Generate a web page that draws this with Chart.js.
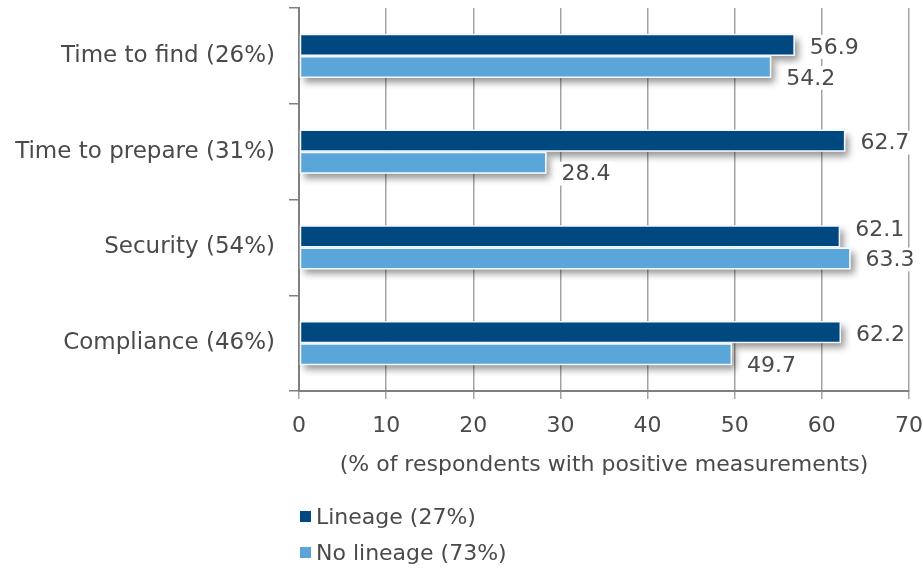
<!DOCTYPE html>
<html>
<head>
<meta charset="utf-8">
<script src="https://cdn.jsdelivr.net/npm/chart.js@4/dist/chart.umd.min.js"></script>
<style>
  html, body { margin: 0; padding: 0; background: #ffffff; }
  #wrap { width: 923px; height: 573px; }
</style>
</head>
<body>
<div id="wrap"><canvas id="c" width="923" height="573"></canvas></div>
<script>
// Categories and series values
const categories = ['Time to find (26%)', 'Time to prepare (31%)', 'Security (54%)', 'Compliance (46%)'];
const lineageValues = [56.9, 62.7, 62.1, 62.2];
const noLineageValues = [54.2, 28.4, 63.3, 49.7];
const seriesNames = ['Lineage (27%)', 'No lineage (73%)'];
const xTicks = [0, 10, 20, 30, 40, 50, 60, 70];
const axisTitle = '(% of respondents with positive measurements)';

const FONT = '"DejaVu Sans", sans-serif';
const TEXT = '#4a4a4a';
const COLORS = ['#004880', '#5ba6d8'];

// Drop shadow behind each pair of bars, drawn as white shapes before the bars
const shadowPlugin = {
  id: 'barShadow',
  beforeDatasetsDraw(chart) {
    const ctx = chart.ctx;
    const metas = [chart.getDatasetMeta(0), chart.getDatasetMeta(1)];
    ctx.save();
    ctx.shadowColor = 'rgba(0,0,0,0.42)';
    ctx.shadowBlur = 7;
    ctx.shadowOffsetX = 4;
    ctx.shadowOffsetY = 5;
    ctx.fillStyle = '#ffffff';
    for (let i = 0; i < categories.length; i++) {
      metas.forEach(m => {
        const b = m.data[i];
        const top = b.y - b.height / 2;
        ctx.fillRect(b.base, top, b.x - b.base, b.height);
      });
    }
    ctx.restore();
  }
};

// Value labels to the right of each bar, on a white box
const valueLabels = {
  id: 'valueLabels',
  afterDatasetsDraw(chart) {
    const ctx = chart.ctx;
    const m0 = chart.getDatasetMeta(0), m1 = chart.getDatasetMeta(1);
    ctx.save();
    ctx.font = '22px ' + FONT;
    ctx.textBaseline = 'middle';
    ctx.textAlign = 'left';
    for (let i = 0; i < categories.length; i++) {
      const a = lineageValues[i], b = noLineageValues[i];
      const lightLonger = b > a;
      const entries = [
        { bar: m0.data[i], v: a, dy: lightLonger ? -7 : 2 },
        { bar: m1.data[i], v: b, dy: lightLonger ? 1 : 11 }
      ];
      entries.forEach(e => {
        const txt = e.v.toFixed(1);
        const x = e.bar.x + 15;
        const y = e.bar.y + e.dy;
        const w = ctx.measureText(txt).width;
        ctx.fillStyle = '#ffffff';
        ctx.fillRect(x - 2, y - 12, w + 4, 24);
        ctx.fillStyle = TEXT;
        ctx.fillText(txt, x, y + 1);
      });
    }
    ctx.restore();
  }
};

// Stacked legend in the lower left
const stackedLegend = {
  id: 'stackedLegend',
  afterDraw(chart) {
    const ctx = chart.ctx;
    ctx.save();
    ctx.font = '22px ' + FONT;
    ctx.textBaseline = 'middle';
    ctx.textAlign = 'left';
    chart.data.datasets.forEach((ds, i) => {
      const y = 517 + i * 36;
      ctx.fillStyle = ds.backgroundColor;
      ctx.fillRect(300, y - 6, 11, 11);
      ctx.fillStyle = TEXT;
      ctx.fillText(ds.label, 316, y + 1);
    });
    ctx.restore();
  }
};

new Chart(document.getElementById('c'), {
  type: 'bar',
  data: {
    labels: categories,
    datasets: [
      { label: seriesNames[0], data: lineageValues, backgroundColor: COLORS[0] },
      { label: seriesNames[1], data: noLineageValues, backgroundColor: COLORS[1] }
    ]
  },
  options: {
    indexAxis: 'y',
    responsive: false,
    animation: false,
    devicePixelRatio: 1,
    layout: { padding: { left: 0, top: 8, right: 14, bottom: 92 } },
    datasets: {
      bar: {
        categoryPercentage: 0.46,
        barPercentage: 1.0,
        borderColor: 'rgba(240,247,253,0.95)',
        borderWidth: 1.5,
        borderSkipped: false
      }
    },
    plugins: {
      legend: { display: false },
      tooltip: { enabled: false }
    },
    scales: {
      x: {
        min: 0,
        max: 70,
        afterBuildTicks: s => { s.ticks = xTicks.map(v => ({ value: v })); },
        afterFit: s => { s.height = 90; s.paddingLeft = 0; s.paddingRight = 0; },
        grid: { color: '#a3a3a3', lineWidth: 1.5, tickLength: 8, drawTicks: true },
        border: { color: '#7f7f7f', width: 2 },
        ticks: { color: TEXT, font: { family: FONT, size: 22 }, padding: 14, maxRotation: 0 },
        title: {
          display: true,
          text: axisTitle,
          color: TEXT,
          font: { family: FONT, size: 22 },
          padding: { top: 4, bottom: 3 }
        }
      },
      y: {
        afterFit: s => { s.width = 299; s.paddingTop = 0; s.paddingBottom = 0; },
        grid: { drawOnChartArea: false, color: '#7f7f7f', lineWidth: 1.5, tickLength: 10, offset: true },
        border: { color: '#7f7f7f', width: 2 },
        ticks: { color: TEXT, font: { family: FONT, size: 23 }, padding: 14 }
      }
    }
  },
  plugins: [shadowPlugin, valueLabels, stackedLegend]
});
</script>
</body>
</html>
